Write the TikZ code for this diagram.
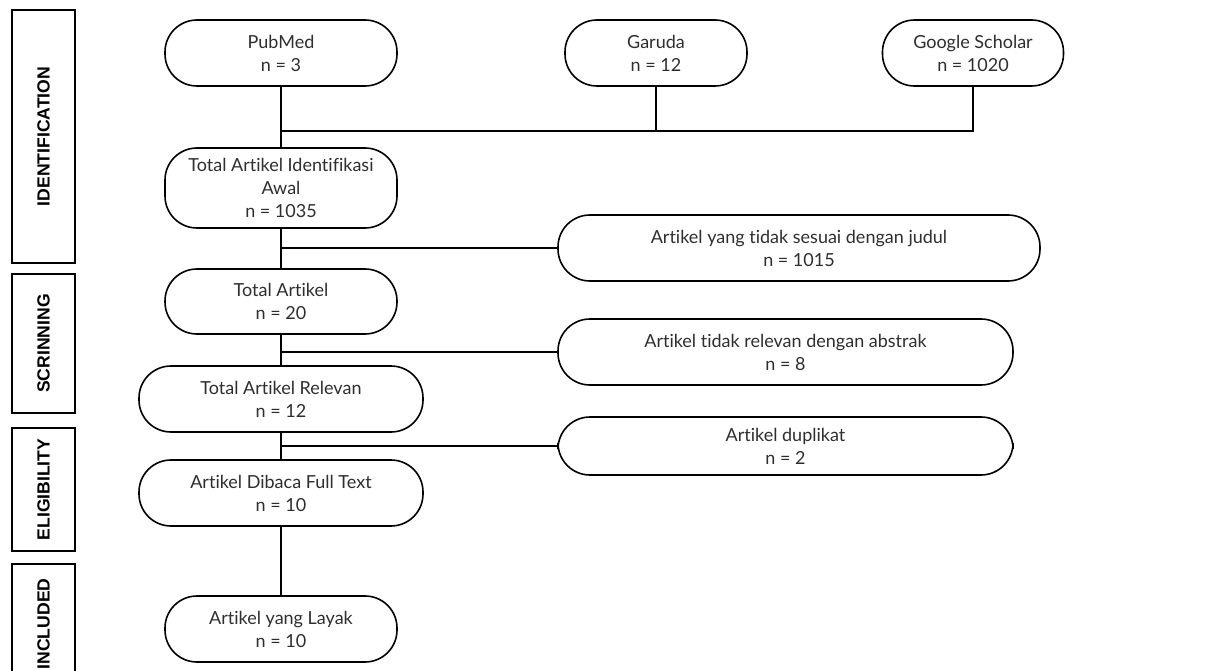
\documentclass[tikz,border=0pt]{standalone}
\usepackage{fontspec}
\setmainfont{Lato}[Ligatures={NoCommon}]
\newfontfamily\labfont{Liberation Sans}
\begin{document}
\begin{tikzpicture}[x=1pt,y=-1pt,
  flowbox/.style={draw=black, line width=1.6pt, rectangle, rounded corners=32pt,
    inner sep=0pt, align=center, font=\fontsize{18}{23}\selectfont, text=black!82},
  sidebox/.style={draw=black, line width=1.8pt, rotate=90, inner sep=0pt, minimum height=63,
    font=\labfont\bfseries\fontsize{17.6}{20}\selectfont},
  conn/.style={line width=2.6pt, draw=black}]
\useasboundingbox (0,0) rectangle (1208,671);
% side labels
\node[sidebox, minimum width=253] (sid) at (43.5,136.5) {IDENTIFICATION};
\node[sidebox, minimum width=139] (ssc) at (43.5,343.5) {SCRINNING};
\node[sidebox, minimum width=123] (sel) at (43.5,489.5) {ELIGIBILITY};
\node[sidebox, minimum width=120] (sin) at (43.5,624) {INCLUDED};
% sources
\node[flowbox, minimum width=232, minimum height=66] (pub) at (281,53) {PubMed\\n = 3};
\node[flowbox, minimum width=182, minimum height=66] (gar) at (656,53) {Garuda\\n = 12};
\node[flowbox, minimum width=181, minimum height=66] (gs) at (973,53) {Google Scholar\\n = 1020};
% main column
\node[flowbox, minimum width=232, minimum height=80] (t1) at (281,188) {Total Artikel Identifikasi\\Awal\\n = 1035};
\node[flowbox, minimum width=232, minimum height=65] (t2) at (281,301.5) {Total Artikel\\n = 20};
\node[flowbox, minimum width=284, minimum height=66] (t3) at (281,399) {Total Artikel Relevan\\n = 12};
\node[flowbox, minimum width=284, minimum height=66] (t4) at (281,493) {Artikel Dibaca Full Text\\n = 10};
\node[flowbox, minimum width=232, minimum height=66] (t5) at (281,629) {Artikel yang Layak\\n = 10};
% exclusions
\node[flowbox, minimum width=482, minimum height=66] (e1) at (799,248) {Artikel yang tidak sesuai dengan judul\\n = 1015};
\node[flowbox, minimum width=455, minimum height=66] (e2) at (785.5,352) {Artikel tidak relevan dengan abstrak\\n = 8};
\node[flowbox, minimum width=455, minimum height=58] (e3) at (785.5,446) {Artikel duplikat\\n = 2};
% connectors
\coordinate (j1) at (281,131);
\draw[conn] (pub.south) -- (t1.north);
\draw[conn] (j1) -| (gs.south);
\draw[conn] (gar.south) -- (gar.south |- j1);
\draw[conn] (t1.south) -- (t2.north);
\draw[conn] (t1.south |- e1.west) -- (e1.west);
\draw[conn] (t2.south) -- (t3.north);
\draw[conn] (t2.south |- e2.west) -- (e2.west);
\draw[conn] (t3.south) -- (t4.north);
\draw[conn] (t3.south |- e3.west) -- (e3.west);
\draw[conn] (t4.south) -- (t5.north);
\end{tikzpicture}
\end{document}
